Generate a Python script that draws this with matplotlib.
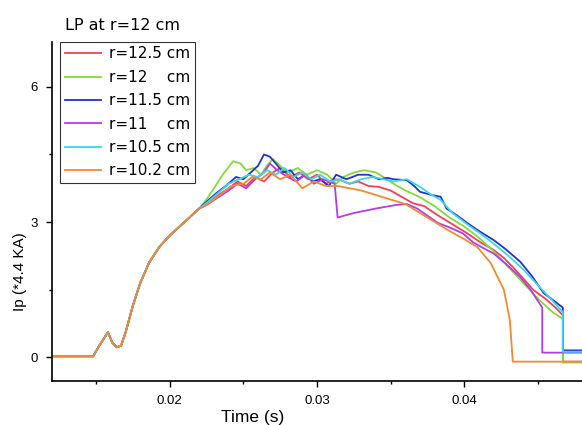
# LP current traces at r = 12 cm

import matplotlib.pyplot as plt

plt.rcParams['font.family'] = ['Liberation Sans', 'DejaVu Sans']

# Shared start-up ramp (time in s, Ip in units of 4.4 kA)
t_rise = [0.0120, 0.0148, 0.0152, 0.0158, 0.0161, 0.0164, 0.0167, 0.0170,
          0.0175, 0.0180, 0.0186, 0.0193, 0.0200, 0.0210, 0.0220]
ip_rise = [0.02, 0.02, 0.25, 0.55, 0.32, 0.22, 0.26, 0.55,
           1.15, 1.65, 2.10, 2.45, 2.70, 3.00, 3.30]

# r = 12.5 cm
t_125 = [0.0226, 0.0233, 0.0240, 0.0246, 0.0252, 0.0258, 0.0264, 0.0270, 0.0275,
         0.0282, 0.0288, 0.0294, 0.0300, 0.0306, 0.0312, 0.0316, 0.0322, 0.0328,
         0.0335, 0.0342, 0.0350, 0.0358, 0.0365, 0.0373, 0.0382, 0.0392, 0.0402,
         0.0411, 0.0420, 0.0427, 0.0433, 0.0440, 0.0447, 0.0455, 0.0462, 0.0467,
         0.0467, 0.0481]
ip_125 = [3.40, 3.60, 3.75, 3.90, 3.80, 4.00, 3.90, 4.10, 4.20,
          4.00, 4.10, 3.95, 4.05, 3.85, 3.95, 3.93, 3.85, 3.90,
          3.80, 3.78, 3.70, 3.55, 3.42, 3.35, 3.15, 2.95, 2.75,
          2.55, 2.38, 2.20, 2.00, 1.75, 1.49, 1.30, 1.10, 0.93,
          -0.10, -0.10]

# r = 12 cm
t_12 = [0.0225, 0.0230, 0.0236, 0.0243, 0.0248, 0.0252, 0.0257, 0.0262, 0.0266,
        0.0270, 0.0275, 0.0280, 0.0287, 0.0293, 0.0300, 0.0307, 0.0313, 0.0318,
        0.0325, 0.0332, 0.0340, 0.0345, 0.0352, 0.0360, 0.0370, 0.0380, 0.0390,
        0.0400, 0.0410, 0.0420, 0.0430, 0.0440, 0.0450, 0.0460, 0.0467, 0.0467,
        0.0481]
ip_12 = [3.50, 3.75, 4.05, 4.35, 4.30, 4.15, 4.20, 4.05, 4.25,
         4.40, 4.25, 4.10, 4.20, 4.05, 4.15, 4.05, 3.85, 4.00,
         4.10, 4.15, 4.10, 4.00, 3.85, 3.70, 3.55, 3.35, 3.10,
         2.90, 2.65, 2.35, 2.00, 1.65, 1.30, 1.00, 0.85, -0.12,
         -0.12]

# r = 11.5 cm
t_115 = [0.0225, 0.0232, 0.0238, 0.0245, 0.0250, 0.0255, 0.0260, 0.0264, 0.0268,
         0.0272, 0.0277, 0.0282, 0.0287, 0.0292, 0.0297, 0.0302, 0.0308, 0.0313,
         0.0320, 0.0328, 0.0335, 0.0342, 0.0348, 0.0352, 0.0361, 0.0366, 0.0370,
         0.0378, 0.0384, 0.0388, 0.0395, 0.0402, 0.0410, 0.0420, 0.0428, 0.0438,
         0.0446, 0.0454, 0.0461, 0.0467, 0.0467, 0.0481]
ip_115 = [3.45, 3.65, 3.80, 4.00, 3.95, 4.10, 4.25, 4.50, 4.45,
          4.30, 4.10, 4.15, 3.95, 4.05, 3.90, 3.95, 3.80, 4.05,
          3.95, 4.05, 4.05, 3.95, 3.98, 3.95, 3.93, 3.80, 3.67,
          3.60, 3.56, 3.30, 3.15, 2.98, 2.80, 2.60, 2.40, 2.12,
          1.80, 1.42, 1.25, 1.10, 0.15, 0.15]

# r = 11 cm
t_11 = [0.0226, 0.0233, 0.0240, 0.0246, 0.0252, 0.0258, 0.0264, 0.0268, 0.0273,
        0.0280, 0.0286, 0.0292, 0.0298, 0.0304, 0.0310, 0.0312, 0.0314, 0.0325,
        0.0340, 0.0354, 0.0361, 0.0368, 0.0376, 0.0382, 0.0390, 0.0399, 0.0406,
        0.0413, 0.0420, 0.0429, 0.0438, 0.0445, 0.0450, 0.0453, 0.0453, 0.0481]
ip_11 = [3.40, 3.55, 3.70, 3.85, 3.75, 3.95, 4.10, 4.30, 4.15,
         4.00, 3.90, 4.05, 3.85, 3.95, 3.88, 3.85, 3.10, 3.20,
         3.30, 3.38, 3.40, 3.30, 3.12, 2.98, 2.88, 2.75, 2.55,
         2.42, 2.30, 2.05, 1.78, 1.50, 1.25, 1.10, 0.10, 0.10]

# r = 10.5 cm
t_105 = [0.0226, 0.0233, 0.0240, 0.0247, 0.0254, 0.0260, 0.0266, 0.0272, 0.0278,
         0.0284, 0.0290, 0.0296, 0.0302, 0.0309, 0.0315, 0.0322, 0.0330, 0.0338,
         0.0345, 0.0352, 0.0361, 0.0370, 0.0378, 0.0384, 0.0392, 0.0402, 0.0412,
         0.0420, 0.0430, 0.0440, 0.0450, 0.0460, 0.0467, 0.0467, 0.0481]
ip_105 = [3.45, 3.65, 3.85, 3.95, 4.05, 4.00, 4.15, 4.05, 4.20,
          4.00, 4.10, 3.95, 4.05, 3.90, 3.95, 3.85, 3.95, 4.00,
          3.95, 3.90, 3.95, 3.78, 3.60, 3.49, 3.20, 2.95, 2.72,
          2.52, 2.25, 1.95, 1.60, 1.25, 1.00, 0.12, 0.12]

# r = 10.2 cm
t_102 = [0.0226, 0.0234, 0.0242, 0.0250, 0.0256, 0.0262, 0.0268, 0.0275, 0.0282,
         0.0290, 0.0298, 0.0306, 0.0314, 0.0322, 0.0330, 0.0340, 0.0350, 0.0360,
         0.0370, 0.0380, 0.0390, 0.0400, 0.0409, 0.0418, 0.0427, 0.0431, 0.0433,
         0.0481]
ip_102 = [3.40, 3.60, 3.80, 3.85, 4.00, 3.95, 4.10, 3.95, 4.05,
          3.75, 3.90, 3.80, 3.80, 3.75, 3.70, 3.60, 3.50, 3.40,
          3.20, 3.00, 2.80, 2.62, 2.44, 2.09, 1.49, 0.82, -0.10,
          -0.10]

labels = ['r=12.5 cm', 'r=12    cm', 'r=11.5 cm', 'r=11    cm', 'r=10.5 cm', 'r=10.2 cm']
colors = ['#f2405a', '#86d83c', '#2233cc', '#b43ce6', '#3cd6e6', '#f28a32']
series = [(t_125, ip_125), (t_12, ip_12), (t_115, ip_115),
          (t_11, ip_11), (t_105, ip_105), (t_102, ip_102)]

fig = plt.figure(figsize=(5.82, 4.25), dpi=100)
ax = fig.add_axes([0.0893, 0.1035, 0.9107, 0.798])

for (t, ip), lab, col in zip(series, labels, colors):
    ax.plot(t_rise + t, ip_rise + ip, color=col, lw=1.3, label=lab)

ax.set_xlim(0.012, 0.048)
ax.set_ylim(-0.53, 7.0)
ax.set_xticks([0.02, 0.03, 0.04])
ax.set_xticks([0.015, 0.025, 0.035, 0.045], minor=True)
ax.set_yticks([0, 3, 6])
ax.set_yticks([1.5, 4.5], minor=True)
ax.tick_params(which='major', direction='out', length=4, width=1, labelsize=9.5)
ax.tick_params(axis='x', which='major', pad=6)
ax.tick_params(axis='y', which='major', pad=6)
ax.tick_params(which='minor', direction='out', length=2.5, width=1)
ax.spines['top'].set_visible(False)
ax.spines['right'].set_visible(False)
ax.spines['left'].set_linewidth(1.2)
ax.spines['bottom'].set_linewidth(1.2)

ax.set_xlabel('Time (s)', fontsize=12.5)
ax.xaxis.set_label_coords(0.379, -0.086)
ax.set_ylabel('Ip (*4.4 KA)', fontsize=11)
ax.yaxis.set_label_coords(-0.047, 0.324)

leg = ax.legend(loc='upper left', bbox_to_anchor=(0.015, 1.0),
                prop={'family': 'DejaVu Sans', 'size': 11},
                handlelength=2.4, labelspacing=0.55, handletextpad=0.5,
                borderpad=0.3, borderaxespad=0, frameon=True, fancybox=False)
leg.get_frame().set_edgecolor('black')
leg.get_frame().set_linewidth(0.8)

fig.text(0.211, 0.941, 'LP at r=12 cm', ha='center', va='center',
         family='DejaVu Sans', fontsize=11.5)

fig.savefig('out.png', dpi=100)
